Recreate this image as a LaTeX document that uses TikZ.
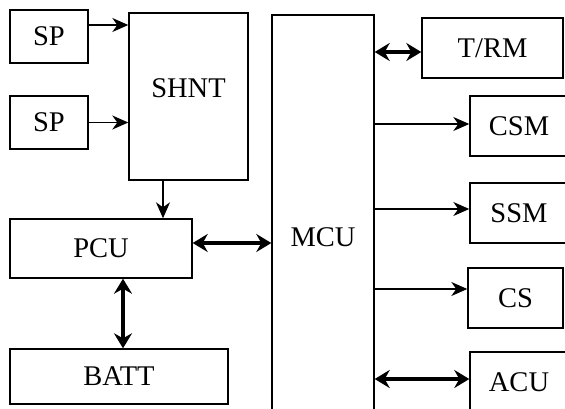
\documentclass[tikz,border=0pt]{standalone}
\usepackage{fontspec}
\setmainfont{Liberation Serif}
\usetikzlibrary{arrows.meta}

\tikzset{
    unit box/.style={
        draw,line width=1.4pt,
        fill=white,inner sep=0pt,
        font=\fontsize{28.5}{31}\selectfont
    },
    sig arrow/.style={
        line width=1.5pt,
        -{Stealth[length=16pt,width=14pt,inset=5pt]}
    },
    bus arrow/.style={
        line width=3.8pt,
        {Stealth[length=15pt,width=18pt,inset=5pt]}-{Stealth[length=15pt,width=18pt,inset=5pt]}
    }
}

\begin{document}
\begin{tikzpicture}[x=1pt,y=-1pt]
        \clip (0,0) rectangle (565,408);
        % left side
        \node[unit box,minimum width=78pt,minimum height=53pt] (sp1) at (49,36.5) {SP};
        \node[unit box,minimum width=78pt,minimum height=53pt] (sp2) at (49,122.5) {SP};
        \node[unit box,minimum width=119pt,minimum height=167pt] (shnt) at (188.5,96.5) {};
        \node[font=\fontsize{28.5}{31}\selectfont] at ([yshift=8pt]shnt.center) {SHNT};
        \node[unit box,minimum width=182pt,minimum height=59pt] (pcu) at (101,248.5) {PCU};
        \node[unit box,minimum width=218pt,minimum height=55pt] (batt) at (119,376.5) {BATT};
        % controller
        \node[unit box,minimum width=102pt,minimum height=410pt] (mcu) at (323,220) {};
        \node[font=\fontsize{28.5}{31}\selectfont] at ([yshift=-17pt]mcu.center) {MCU};
        % right side
        \node[unit box,minimum width=141pt,minimum height=60pt] (trm) at (492.5,48) {T/RM};
        \node[unit box,minimum width=98pt,minimum height=60pt] (csm) at (519,126) {CSM};
        \node[unit box,minimum width=98pt,minimum height=60pt] (ssm) at (519,213) {SSM};
        \node[unit box,minimum width=95pt,minimum height=60pt] (cs) at (515.5,298) {CS};
        \node[unit box,minimum width=98pt,minimum height=60pt] (acu) at (519,382) {ACU};
        % connections
        \draw[sig arrow] ([yshift=11.5pt]sp1.east) -- ([yshift=11.5pt]sp1.east -| shnt.west);
        \draw[sig arrow] (sp2.east) -- (sp2.east -| shnt.west);
        \draw[sig arrow] ([xshift=-25.5pt]shnt.south) -- ([xshift=-25.5pt]shnt.south |- pcu.north);
        \draw[bus arrow] ([yshift=5.5pt]pcu.east) -- ([yshift=5.5pt]pcu.east -| mcu.west);
        \draw[bus arrow] ([xshift=22pt]pcu.south) -- ([xshift=22pt]pcu.south |- batt.north);
        \draw[bus arrow] ([yshift=-4pt]trm.west -| mcu.east) -- ([yshift=-4pt]trm.west);
        \foreach \name/\dy in {csm/2,ssm/4,cs/9}
            \draw[sig arrow] ([yshift=\dy pt]\name.west -| mcu.east) -- ([yshift=\dy pt]\name.west);
        \draw[bus arrow] ([yshift=3pt]acu.west -| mcu.east) -- ([yshift=3pt]acu.west);
    \end{tikzpicture}
\end{document}
